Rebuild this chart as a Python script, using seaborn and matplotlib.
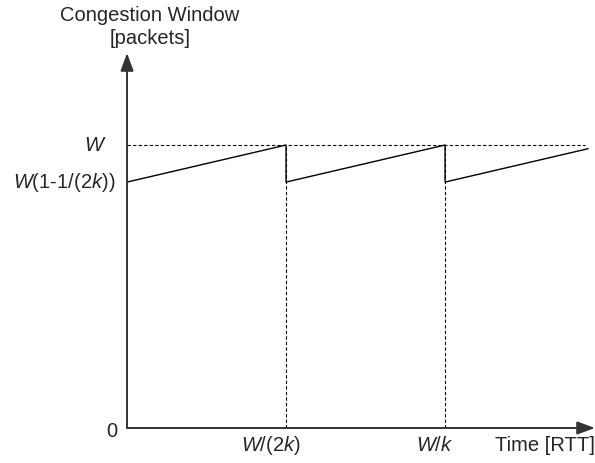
import matplotlib
matplotlib.use("Agg")
import matplotlib.pyplot as plt
import seaborn as sns
import pandas as pd

# Sawtooth of the congestion window (time in units of W/(2k), window in units of W)
time_pts = [0.0, 1.0, 1.0, 2.0, 2.0, 2.9]
window_pts = [0.869, 1.0, 0.869, 1.0, 0.869, 0.987]
peak_times = [1.0, 2.0]
x_tick_pos = [1.0, 2.0]
x_tick_labels = [r"$W$/(2$k$)", r"$W$/$k$"]
y_tick_pos = [1.0, 0.869]
y_tick_labels = [r"$W$", r"$W$(1-1/(2$k$))"]

sns.set_theme(style="white")
plt.rcParams["font.family"] = ["Liberation Sans", "DejaVu Sans"]
plt.rcParams["mathtext.fontset"] = "custom"
plt.rcParams["mathtext.rm"] = "Liberation Sans"
plt.rcParams["mathtext.it"] = "Liberation Sans:italic"

fig = plt.figure(figsize=(5.95, 4.63), dpi=100)
ax = fig.add_axes([0, 0, 1, 1])
ax.set_xlim(-0.799, 2.943)
ax.set_ylim(-0.1237, 1.5124)
ax.axis("off")

df = pd.DataFrame({"time": time_pts, "window": window_pts})
sns.lineplot(data=df, x="time", y="window", sort=False, estimator=None,
             color="black", lw=1.0, ax=ax)

# Reference levels
ax.plot([0, 2.88], [1.0, 1.0], color="black", lw=0.8, ls=(0, (3, 2)))
for t in peak_times:
    ax.plot([t, t], [0, 1.0], color="black", lw=0.8, ls=(0, (3, 2)))

# Axes with arrowheads
axis_color = "#333333"
ax.annotate("", xy=(2.943, 0), xytext=(0, 0),
            arrowprops=dict(arrowstyle="-|>,head_length=0.9,head_width=0.33",
                            color=axis_color, lw=1.4, shrinkA=0, shrinkB=0))
ax.annotate("", xy=(0, 1.325), xytext=(0, 0),
            arrowprops=dict(arrowstyle="-|>,head_length=0.9,head_width=0.33",
                            color=axis_color, lw=1.4, shrinkA=0, shrinkB=0))

fs = 14.5
x_label_x = [0.906, 1.937]
for p, lab in zip(x_label_x, x_tick_labels):
    ax.text(p, -0.0636, lab, ha="center", va="center", fontsize=fs)
y_label_x = [-0.126, -0.0755]
for xp, p, lab in zip(y_label_x, y_tick_pos, y_tick_labels):
    ax.text(xp, p, lab, ha="right", va="center", fontsize=fs)
ax.text(-0.063, -0.014, "0", ha="right", va="center", fontsize=fs)
ax.text(2.943, -0.0636, "Time [RTT]", ha="right", va="center", fontsize=fs)
ax.text(0.145, 1.459, "Congestion Window", ha="center", va="center", fontsize=fs)
ax.text(0.145, 1.378, "[packets]", ha="center", va="center", fontsize=fs)

fig.savefig("out.png", dpi=100)
